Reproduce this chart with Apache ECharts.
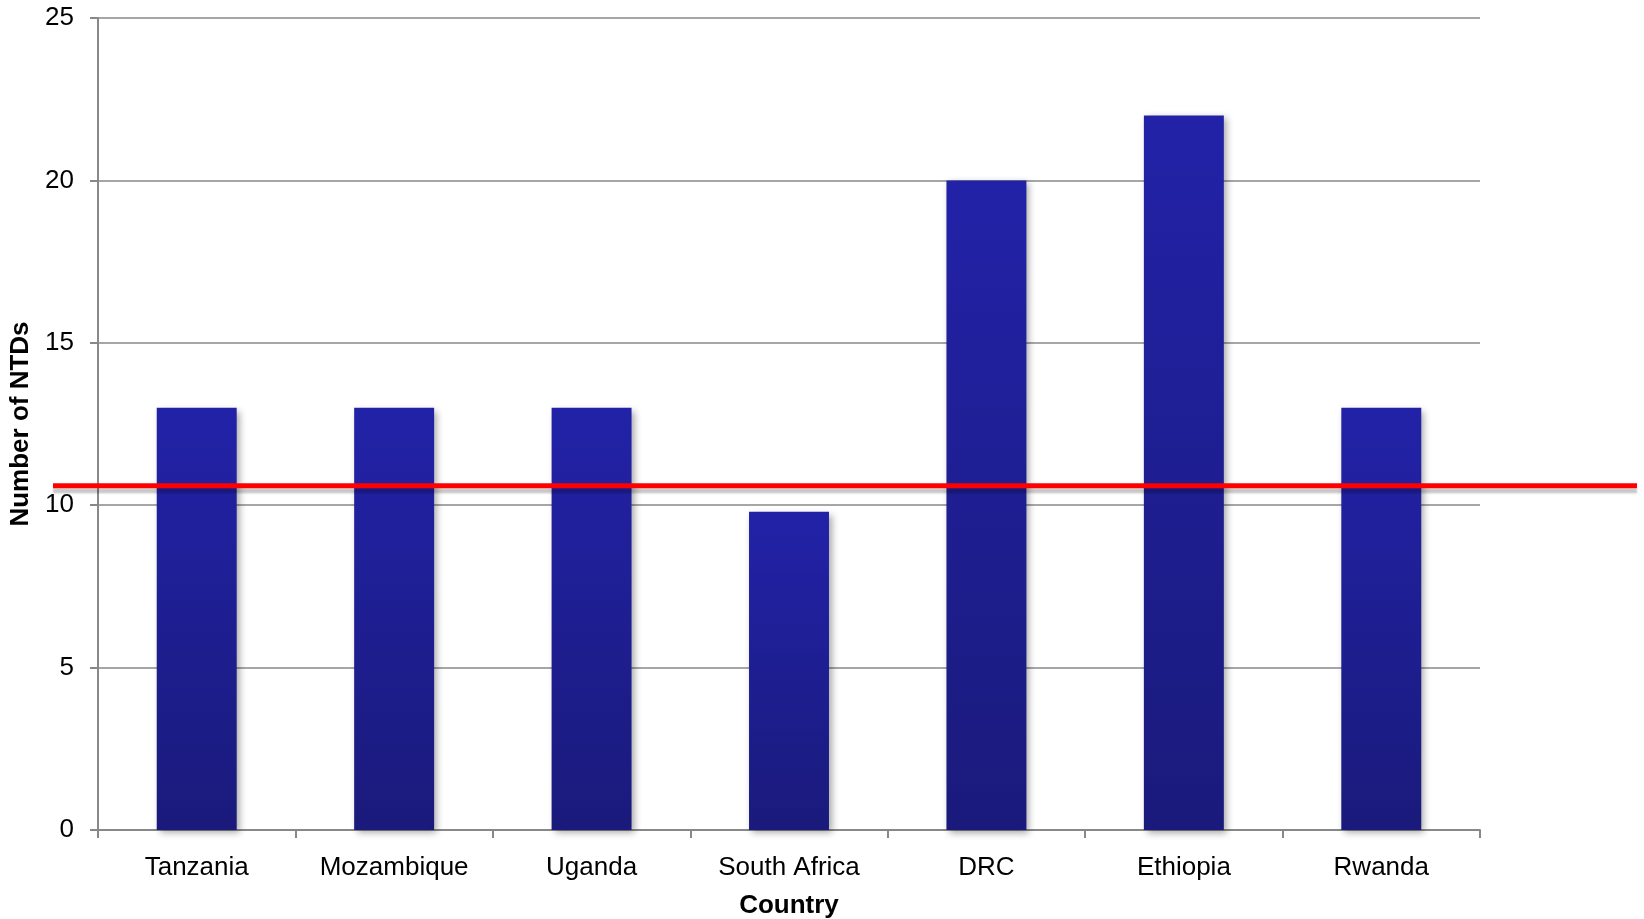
<!DOCTYPE html>
<html>
<head>
<meta charset="utf-8">
<script src="https://cdn.jsdelivr.net/npm/echarts@6/dist/echarts.min.js"></script>
<style>html,body{margin:0;padding:0;background:#fff;}#chart{width:1644px;height:919px;}</style>
</head>
<body>
<div id="chart"></div>
<script>
const categories = ['Tanzania', 'Mozambique', 'Uganda', 'South Africa', 'DRC', 'Ethiopia', 'Rwanda'];
const ntdCounts = [13, 13, 13, 9.8, 20, 22, 13];
const yTicks = [0, 5, 10, 15, 20, 25];
const referenceLevel = [10.6, 10.6];
const xAxisTitle = 'Country';
const yAxisTitle = 'Number of NTDs';

const FONT = 'Arial, "Liberation Sans", sans-serif';
const chart = echarts.init(document.getElementById('chart'));
chart.setOption({
  animation: false,
  backgroundColor: '#ffffff',
  grid: [
    { left: 98, right: 164, top: 18, bottom: 89, outerBoundsMode: 'none', containLabel: false },
    { left: 53, right: 7, top: 18, bottom: 89, outerBoundsMode: 'none', containLabel: false }
  ],
  xAxis: [
    {
      type: 'category', gridIndex: 0, data: categories,
      axisLine: { lineStyle: { color: '#888888', width: 2 } },
      axisTick: { show: true, length: 8, lineStyle: { color: '#888888', width: 2 } },
      axisLabel: { color: '#000', fontSize: 26, fontFamily: FONT, margin: 25 },
      name: xAxisTitle, nameLocation: 'middle', nameGap: 63,
      nameTextStyle: { color: '#000', fontSize: 26, fontWeight: 'bold', fontFamily: FONT }
    },
    {
      type: 'category', gridIndex: 1, data: ['a', 'b'], boundaryGap: false, show: false
    }
  ],
  yAxis: [
    {
      type: 'value', gridIndex: 0, min: yTicks[0], max: yTicks[yTicks.length - 1], interval: 5,
      axisLine: { show: true, lineStyle: { color: '#888888', width: 2 } },
      axisTick: { show: true, length: 8, lineStyle: { color: '#888888', width: 2 } },
      splitLine: { show: true, lineStyle: { color: '#888888', width: 1.5 } },
      axisLabel: { color: '#000', fontSize: 26, fontFamily: FONT, margin: 24 },
      name: yAxisTitle, nameLocation: 'middle', nameGap: 58,
      nameTextStyle: { color: '#000', fontSize: 26, fontWeight: 'bold', fontFamily: FONT }
    },
    {
      type: 'value', gridIndex: 1, min: yTicks[0], max: yTicks[yTicks.length - 1], show: false
    }
  ],
  series: [
    {
      type: 'bar', xAxisIndex: 0, yAxisIndex: 0, data: ntdCounts, barWidth: '40.5%',
      itemStyle: {
        color: new echarts.graphic.LinearGradient(0, 0, 0, 1, [
          { offset: 0, color: '#2222A8' },
          { offset: 1, color: '#1A1A7C' }
        ]),
        shadowColor: 'rgba(0,0,0,0.35)', shadowBlur: 7, shadowOffsetX: 3, shadowOffsetY: 3
      },
      z: 2
    },
    {
      type: 'line', xAxisIndex: 1, yAxisIndex: 1, data: referenceLevel, symbol: 'none',
      lineStyle: { color: '#FF0000', width: 5, shadowColor: 'rgba(0,0,0,0.22)', shadowBlur: 2, shadowOffsetY: 5 },
      z: 5
    }
  ]
});
</script>
</body>
</html>
